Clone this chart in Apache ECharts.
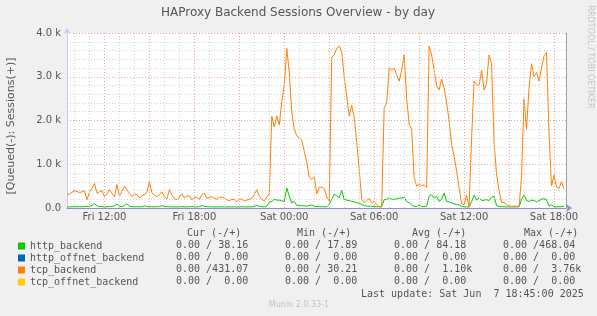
<!DOCTYPE html>
<html>
<head>
<meta charset="utf-8">
<title>HAProxy Backend Sessions Overview - by day</title>
<script src="https://cdn.jsdelivr.net/npm/echarts@6/dist/echarts.min.js"></script>
<style>
  html, body { margin: 0; padding: 0; background: #f0f0f0; }
  #chart { width: 597px; height: 316px; }
</style>
</head>
<body>
<div id="chart"></div>
<script>
// time axis in hours from Fri 00:00, one sample every 10 minutes
const startHour = 9.5;
const endHour = 42.8;
const stepHours = 1 / 6;

const httpBackend = [
  25, 25, 30, 30, 28, 30, 28, 30, 35, 40,
  60, 105, 45, 30, 30, 25, 28, 30, 35, 50,
  90, 40, 30, 60, 100, 40, 30, 28, 30, 25,
  30, 50, 35, 30, 28, 25, 30, 30, 55, 35,
  30, 28, 25, 25, 25, 28, 30, 25, 25, 28,
  30, 28, 25, 30, 60, 40, 30, 28, 25, 25,
  25, 25, 28, 25, 25, 22, 25, 25, 25, 25,
  28, 25, 25, 25, 25, 40, 60, 35, 30, 25,
  40, 130, 150, 200, 180, 180, 160, 150, 457, 270,
  115, 150, 60, 53, 53, 50, 40, 60, 70, 40,
  30, 30, 30, 30, 25, 80, 200, 320, 280, 230,
  400, 200, 180, 170, 150, 140, 120, 110, 80, 55,
  45, 40, 40, 35, 30, 30, 30, 190, 200, 230,
  200, 200, 210, 225, 230, 245, 150, 120, 70, 40,
  30, 70, 30, 30, 40, 267, 305, 230, 267, 150,
  200, 343, 150, 140, 115, 100, 75, 75, 40, 25,
  25, 25, 150, 290, 180, 230, 170, 180, 190, 170,
  250, 267, 60, 35, 30, 30, 25, 25, 25, 25,
  25, 25, 200, 305, 170, 150, 180, 170, 140, 170,
  200, 215, 190, 40, 75, 30, 25, 30, 30, 38
];

const tcpBackend = [
  300, 320, 360, 390, 380, 350, 370, 390, 190, 360,
  450, 560, 340, 370, 400, 260, 330, 420, 330, 260,
  540, 270, 380, 500, 420, 330, 260, 320, 310, 230,
  280, 310, 360, 600, 350, 290, 260, 300, 370, 260,
  210, 420, 300, 220, 190, 250, 330, 230, 270, 280,
  190, 250, 240, 200, 300, 340, 230, 240, 260, 220,
  200, 240, 250, 230, 190, 160, 200, 190, 140, 210,
  200, 160, 180, 200, 220, 310, 420, 270, 200, 160,
  250, 320, 2100, 1850, 2100, 1900, 2440, 2800, 3650, 3100,
  2200, 1800, 1650, 1600, 1550, 1300, 1050, 700, 650, 720,
  320, 475, 475, 440, 250, 160, 3450, 3500, 3650, 3700,
  3560, 3000, 2550, 2100, 2350, 2060, 1500, 880, 200, 130,
  170, 220, 120, 150, 80, 25, 25, 2290, 2400, 3200,
  3150, 3200, 3050, 2900, 3150, 3500, 2500, 1920, 1800, 700,
  500, 540, 510, 530, 470, 3700, 3500, 3150, 2800, 2700,
  2950, 2750, 2400, 2000, 1450, 1180, 850, 450, 100, 80,
  290, 20, 1600, 2900, 2820, 2800, 3150, 2700, 2850, 3500,
  3300, 1500, 770, 400, 120, 130, 75, 45, 40, 40,
  40, 40, 700, 2500, 1800, 2750, 3300, 3000, 3100, 2900,
  3200, 3480, 3560, 1700, 500, 750, 480, 450, 600, 431
];

// grid / tick positions
const minorHours = [10, 11, 13, 14, 16, 17, 19, 20, 22, 23, 25, 26, 28, 29, 31, 32, 34, 35, 37, 38, 40, 41];
const majorHours = [12, 15, 18, 21, 24, 27, 30, 33, 36, 39, 42];
const labelHours = [12, 18, 24, 30, 36, 42];
const labelValues = [0, 1000, 2000, 3000, 4000];

// legend table
const seriesNames = ['http_backend', 'http_offnet_backend', 'tcp_backend', 'tcp_offnet_backend'];
const seriesColors = ['#00cc00', '#0066b3', '#ff8000', '#ffcc00'];
const statHeaders = ['Cur (-/+)', 'Min (-/+)', 'Avg (-/+)', 'Max (-/+)'];
const curStats = ['0.00 / 38.16', '0.00 /  0.00', '0.00 /431.07', '0.00 /  0.00'];
const minStats = ['0.00 / 17.89', '0.00 /  0.00', '0.00 / 30.21', '0.00 /  0.00'];
const avgStats = ['0.00 / 84.18', '0.00 /  0.00', '0.00 /  1.10k', '0.00 /  0.00'];
const maxStats = ['0.00 /468.04', '0.00 /  0.00', '0.00 /  3.76k', '0.00 /  0.00'];
const lastUpdate = 'Last update: Sat Jun  7 18:45:00 2025';

const textColor = '#555';
const sans = 'DejaVu Sans';
const mono = 'DejaVu Sans Mono';

function toPairs(values) {
  return values.map((v, i) => [startHour + i * stepHours, v]);
}

function hourLabel(h) {
  const day = h < 24 ? 'Fri' : 'Sat';
  const hh = Math.round(h % 24);
  return day + ' ' + (hh < 10 ? '0' + hh : hh) + ':00';
}

// titles and the stats table under the plot
const graphics = [];
graphics.push({
  type: 'text', x: 298, y: 13,
  style: { text: 'HAProxy Backend Sessions Overview - by day', fill: textColor, font: '12px "' + sans + '"', align: 'center', verticalAlign: 'middle' }
});
graphics.push({
  type: 'text', x: 11, y: 126, rotation: Math.PI / 2,
  style: { text: '[Queued(-): Sessions(+)]', fill: textColor, font: '11px "' + sans + '"', align: 'center', verticalAlign: 'middle' }
});
graphics.push({
  type: 'text', x: 590, y: 57, rotation: -Math.PI / 2,
  style: { text: 'RRDTOOL / TOBI OETIKER', fill: '#c4c4c4', font: '8px "' + sans + '"', align: 'center', verticalAlign: 'middle' }
});

const headerX = [187, 297, 412, 524];
const columnX = [176, 285, 394, 503];
const columns = [curStats, minStats, avgStats, maxStats];
statHeaders.forEach((h, c) => {
  graphics.push({
    type: 'text', x: headerX[c], y: 233,
    style: { text: h, fill: textColor, font: '10px "' + mono + '"', verticalAlign: 'middle' }
  });
  columns[c].forEach((s, r) => {
    graphics.push({
      type: 'text', x: columnX[c], y: 245 + r * 12,
      style: { text: s, fill: textColor, font: '10px "' + mono + '"', verticalAlign: 'middle' }
    });
  });
});
graphics.push({
  type: 'text', x: 361, y: 294,
  style: { text: lastUpdate, fill: textColor, font: '10px "' + mono + '"', verticalAlign: 'middle' }
});
graphics.push({
  type: 'text', x: 299, y: 305,
  style: { text: 'Munin 2.0.33-1', fill: '#c4c4c4', font: '8px "' + sans + '"', align: 'center', verticalAlign: 'middle' }
});

const minorLine = { color: '#d2d2d2', width: 1, type: [1, 2] };
const majorLine = { color: '#f2a0a0', width: 1, type: [1, 2] };

// vertical grid lines as mark lines on the x scale
function gridLines(hours, style) {
  return {
    type: 'line', data: [], z: 1, silent: true,
    markLine: {
      silent: true, symbol: 'none', animation: false,
      label: { show: false },
      lineStyle: style,
      data: hours.map(h => ({ xAxis: h }))
    }
  };
}

const chart = echarts.init(document.getElementById('chart'), null, { renderer: 'canvas' });

chart.setOption({
  backgroundColor: '#f0f0f0',
  animation: false,
  grid: { left: 67, right: 31, top: 33, bottom: 108, show: true, backgroundColor: '#fff', borderWidth: 0 },
  legend: {
    orient: 'vertical', left: 13, top: 235,
    itemWidth: 7, itemHeight: 7, itemGap: 0, icon: 'rect',
    selectedMode: false,
    textStyle: { fontFamily: mono, fontSize: 10, color: textColor, lineHeight: 12 },
    data: seriesNames
  },
  xAxis: {
    type: 'value', min: startHour, max: endHour,
    axisLine: { show: true, onZero: false, lineStyle: { color: '#9090b8' }, symbol: ['none', 'arrow'], symbolSize: [6, 6], symbolOffset: [0, 6] },
    axisTick: { show: false },
    axisLabel: { customValues: labelHours, formatter: hourLabel, margin: 4, fontSize: 10, fontFamily: sans, color: textColor },
    splitLine: { show: false }
  },
  yAxis: [
    {
      type: 'value', min: 0, max: 4000, interval: 200,
      axisLine: { show: true, onZero: false, lineStyle: { color: '#c8c8f0' }, symbol: ['none', 'arrow'], symbolSize: [6, 6], symbolOffset: [0, 5] },
      axisTick: { show: false },
      axisLabel: {
        customValues: labelValues, margin: 6, fontSize: 10, fontFamily: sans, color: textColor,
        formatter: v => v === 0 ? '0.0' : (v / 1000).toFixed(1) + ' k'
      },
      splitLine: { show: true, lineStyle: minorLine }
    },
    {
      type: 'value', min: 0, max: 4000, interval: 1000, position: 'right',
      axisLine: { show: true, onZero: false, lineStyle: { color: '#a0a0a0' } },
      axisTick: { show: false },
      axisLabel: { show: false },
      splitLine: { show: true, lineStyle: majorLine }
    }
  ],
  series: [
    gridLines(minorHours, minorLine),
    gridLines(majorHours, majorLine),
    { name: seriesNames[0], type: 'line', color: seriesColors[0], data: toPairs(httpBackend), showSymbol: false, lineStyle: { width: 1 } },
    { name: seriesNames[1], type: 'line', color: seriesColors[1], data: [], showSymbol: false, lineStyle: { width: 1 } },
    { name: seriesNames[2], type: 'line', color: seriesColors[2], data: toPairs(tcpBackend), showSymbol: false, lineStyle: { width: 1 } },
    { name: seriesNames[3], type: 'line', color: seriesColors[3], data: [], showSymbol: false, lineStyle: { width: 1 } }
  ],
  graphic: graphics
});

window.addEventListener('resize', () => chart.resize());
</script>
</body>
</html>
